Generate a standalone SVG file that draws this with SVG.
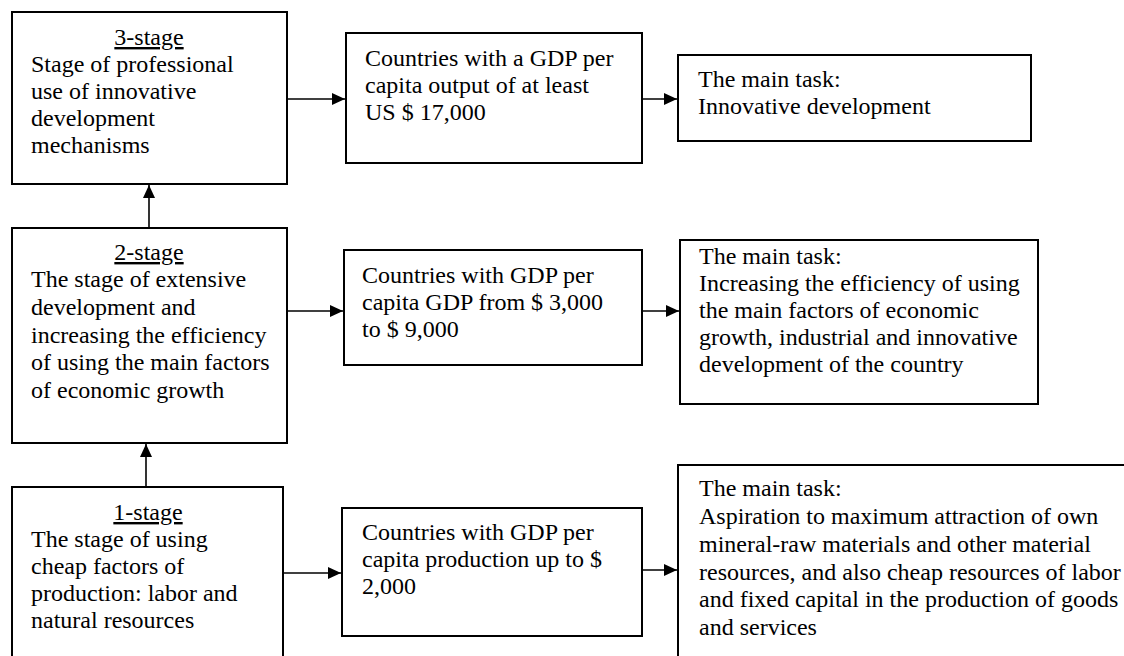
<svg xmlns="http://www.w3.org/2000/svg" width="1124" height="656" viewBox="0 0 1124 656">
<style>
.box{fill:#fff;stroke:#000;stroke-width:2}
.t{font-family:"Liberation Serif","Times New Roman",serif;font-size:24px;fill:#000}
.u{text-decoration:underline}
.c line{stroke:#000;stroke-width:1.6;marker-end:url(#ah)}
</style>
<defs>
<marker id="ah" markerUnits="userSpaceOnUse" markerWidth="14" markerHeight="12" refX="13" refY="6" orient="auto"><path d="M0,0 L13,6 L0,12 z" fill="#000"/></marker>
</defs>
<rect width="1124" height="656" fill="#fff"/>
<g id="stage3">
<rect class="box" x="12" y="12" width="275" height="172"/>
<text class="t u" x="149" y="45" text-anchor="middle">3-stage</text>
<text class="t" x="31" y="72">Stage of professional</text>
<text class="t" x="31" y="99">use of innovative</text>
<text class="t" x="31" y="126">development</text>
<text class="t" x="31" y="153">mechanisms</text>
</g>
<g id="gdp3">
<rect class="box" x="346" y="33" width="296" height="130"/>
<text class="t" x="365" y="66">Countries with a GDP per</text>
<text class="t" x="365" y="93">capita output of at least</text>
<text class="t" x="365" y="120">US $ 17,000</text>
</g>
<g id="task3">
<rect class="box" x="678" y="55" width="353" height="86"/>
<text class="t" x="698" y="87">The main task:</text>
<text class="t" x="698" y="114">Innovative development</text>
</g>
<g id="stage2">
<rect class="box" x="12" y="228" width="275" height="215"/>
<text class="t u" x="149" y="260" text-anchor="middle">2-stage</text>
<text class="t" x="31" y="287">The stage of extensive</text>
<text class="t" x="31" y="315">development and</text>
<text class="t" x="31" y="343">increasing the efficiency</text>
<text class="t" x="31" y="370">of using the main factors</text>
<text class="t" x="31" y="398">of economic growth</text>
</g>
<g id="gdp2">
<rect class="box" x="344" y="250" width="298" height="115"/>
<text class="t" x="362" y="283">Countries with GDP per</text>
<text class="t" x="362" y="310">capita GDP from $ 3,000</text>
<text class="t" x="362" y="337">to $ 9,000</text>
</g>
<g id="task2">
<rect class="box" x="680" y="240" width="358" height="164"/>
<text class="t" x="699" y="264">The main task:</text>
<text class="t" x="699" y="291">Increasing the efficiency of using</text>
<text class="t" x="699" y="318">the main factors of economic</text>
<text class="t" x="699" y="345">growth, industrial and innovative</text>
<text class="t" x="699" y="372">development of the country</text>
</g>
<g id="stage1">
<rect class="box" x="12" y="487" width="271" height="180"/>
<text class="t u" x="148" y="520" text-anchor="middle">1-stage</text>
<text class="t" x="31" y="547">The stage of using</text>
<text class="t" x="31" y="574">cheap factors of</text>
<text class="t" x="31" y="601">production: labor and</text>
<text class="t" x="31" y="628">natural resources</text>
</g>
<g id="gdp1">
<rect class="box" x="342" y="508" width="300" height="128"/>
<text class="t" x="362" y="540">Countries with GDP per</text>
<text class="t" x="362" y="567">capita production up to $</text>
<text class="t" x="362" y="594">2,000</text>
</g>
<g id="task1">
<rect class="box" x="678" y="465" width="460" height="205"/>
<text class="t" x="699" y="496">The main task:</text>
<text class="t" x="699" y="524">Aspiration to maximum attraction of own</text>
<text class="t" x="699" y="552">mineral-raw materials and other material</text>
<text class="t" x="699" y="580">resources, and also cheap resources of labor</text>
<text class="t" x="699" y="607">and fixed capital in the production of goods</text>
<text class="t" x="699" y="635">and services</text>
</g>
<g id="connectors" class="c">
<line x1="146" y1="487" x2="146" y2="444"/>
<line x1="149" y1="228" x2="149" y2="185"/>
<line x1="287" y1="99" x2="345" y2="99"/>
<line x1="642" y1="99" x2="677" y2="99"/>
<line x1="287" y1="311" x2="343" y2="311"/>
<line x1="642" y1="311" x2="679" y2="311"/>
<line x1="283" y1="573" x2="341" y2="573"/>
<line x1="642" y1="570" x2="677" y2="570"/>
</g>
</svg>
